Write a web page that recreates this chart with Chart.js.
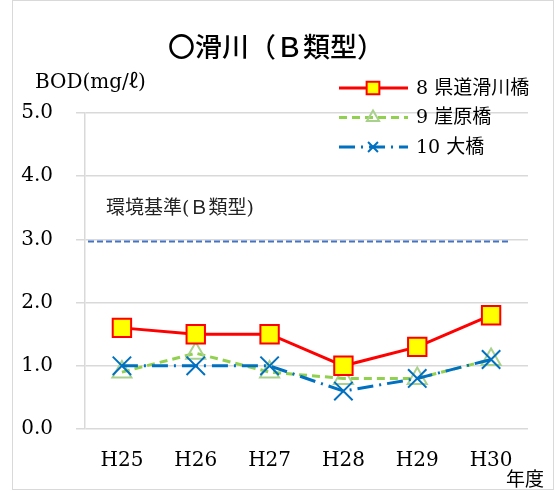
<!DOCTYPE html>
<html>
<head>
<meta charset="utf-8">
<script src="https://cdn.jsdelivr.net/npm/chart.js@4"></script>
<style>
  html, body { margin: 0; padding: 0; background: #fff; }
  #wrap { width: 557px; height: 491px; }
</style>
</head>
<body>
<div id="wrap"><canvas id="bodChart" width="557" height="491"></canvas></div>
<script>
// Data
const years = ['H25', 'H26', 'H27', 'H28', 'H29', 'H30'];
const kendoNamerikawa = [1.6, 1.5, 1.5, 1.0, 1.3, 1.8];
const gakehara = [0.9, 1.2, 0.9, 0.8, 0.8, 1.1];
const ohashi = [1.0, 1.0, 1.0, 0.6, 0.8, 1.1];
const standardB = 3.0;
const yTicks = [0, 1, 2, 3, 4, 5];

const serif = "'DejaVu Serif', 'Noto Sans CJK JP'";
const sans = "'Noto Sans CJK JP', 'Noto Sans'";

const seriesStyle = [
    { label: '8 県道滑川橋', color: '#ff0000', dash: [], marker: 'rect' },
    { label: '9 崖原橋', color: '#92d050', dash: [8, 5], marker: 'triangle' },
    { label: '10 大橋', color: '#0070c0', dash: [16, 6, 2, 6], marker: 'crossRot' }
];

// Frame, title, axis captions, standard line and legend
const decorations = {
    id: 'decorations',
    beforeDraw(chart) {
        const ctx = chart.ctx;
        ctx.save();
        ctx.strokeStyle = '#d9d9d9';
        ctx.lineWidth = 1;
        ctx.strokeRect(12.5, 0.5, 541, 489);
        ctx.restore();
    },
    afterDatasetsDraw(chart) {
        const ctx = chart.ctx;
        const y = chart.scales.y;
        const x = chart.scales.x;
        ctx.save();

        // standard line
        const ys = y.getPixelForValue(standardB) + 2;
        ctx.strokeStyle = '#4472c4';
        ctx.lineWidth = 2;
        ctx.setLineDash([6, 3]);
        ctx.beginPath();
        ctx.moveTo(chart.chartArea.left + 3, ys);
        ctx.lineTo(x.getPixelForValue(years.length - 1) + 17, ys);
        ctx.stroke();
        ctx.setLineDash([]);

        ctx.fillStyle = '#222';
        ctx.textBaseline = 'middle';
        ctx.textAlign = 'left';
        ctx.font = '19px ' + serif;
        ctx.fillText('環境基準(Ｂ類型)', 106, 209);

        // title
        ctx.textAlign = 'center';
        ctx.font = '500 27px ' + sans;
        ctx.fillStyle = '#000';
        ctx.fillText('〇滑川（Ｂ類型）', 276, 47);

        // y axis caption
        ctx.textAlign = 'left';
        ctx.font = '20px ' + serif;
        ctx.fillText('BOD(mg/ℓ)', 35, 83);

        // x axis caption
        ctx.font = '19px ' + sans;
        ctx.fillText('年度', 506, 479);

        // legend
        seriesStyle.forEach((s, i) => {
            const ly = 88 + i * 29.5;
            ctx.strokeStyle = s.color;
            ctx.lineWidth = 3;
            ctx.setLineDash(s.dash);
            ctx.beginPath();
            ctx.moveTo(339, ly);
            ctx.lineTo(408, ly);
            ctx.stroke();
            ctx.setLineDash([]);
            const ds = chart.data.datasets[i];
            ctx.fillStyle = ds.pointBackgroundColor;
            ctx.strokeStyle = ds.pointBorderColor;
            ctx.lineWidth = 2;
            Chart.helpers.drawPoint(ctx, {
                pointStyle: s.marker,
                radius: i === 0 ? 9 : 7,
                borderWidth: 2,
                rotation: 0
            }, 373, ly);
            ctx.fillStyle = '#000';
            ctx.font = '19px ' + serif;
            ctx.fillText(s.label, 416, ly + 1);
        });
        ctx.restore();
    }
};

function makeDataset(i, values, fill, border, radius) {
    const s = seriesStyle[i];
    return {
        label: s.label,
        data: values,
        borderColor: s.color,
        borderWidth: 3,
        borderDash: s.dash,
        pointStyle: s.marker,
        pointRadius: radius,
        pointBackgroundColor: fill,
        pointBorderColor: border,
        pointBorderWidth: 2,
        tension: 0,
        order: i === 0 ? 1 : (i === 1 ? 3 : 2)
    };
}

new Chart(document.getElementById('bodChart'), {
    type: 'line',
    data: {
        labels: years,
        datasets: [
            makeDataset(0, kendoNamerikawa, '#ffff00', '#ff0000', 13),
            makeDataset(1, gakehara, 'rgba(0,0,0,0)', '#a9d18e', 11),
            makeDataset(2, ohashi, '#0070c0', '#0070c0', 13)
        ]
    },
    options: {
        responsive: false,
        animation: false,
        devicePixelRatio: 1,
        layout: { padding: { top: 113, right: 29, left: 0, bottom: 0 } },
        plugins: {
            legend: { display: false },
            tooltip: { enabled: false }
        },
        scales: {
            x: {
                offset: true,
                grid: { display: false, drawTicks: false },
                border: { display: false },
                ticks: {
                    color: '#000',
                    padding: 20,
                    font: { family: serif, size: 20 }
                },
                afterFit(scale) { scale.height = 62; }
            },
            y: {
                min: 0,
                max: 5,
                afterBuildTicks(scale) {
                    scale.ticks = yTicks.map(v => ({ value: v }));
                },
                grid: { color: '#d9d9d9', lineWidth: 1.5, tickLength: 9 },
                border: { color: '#d9d9d9', width: 1.5 },
                ticks: {
                    color: '#000',
                    padding: 23,
                    font: { family: serif, size: 20 },
                    callback: v => v.toFixed(1)
                },
                afterFit(scale) { scale.width = 85; }
            }
        }
    },
    plugins: [decorations]
});
</script>
</body>
</html>
